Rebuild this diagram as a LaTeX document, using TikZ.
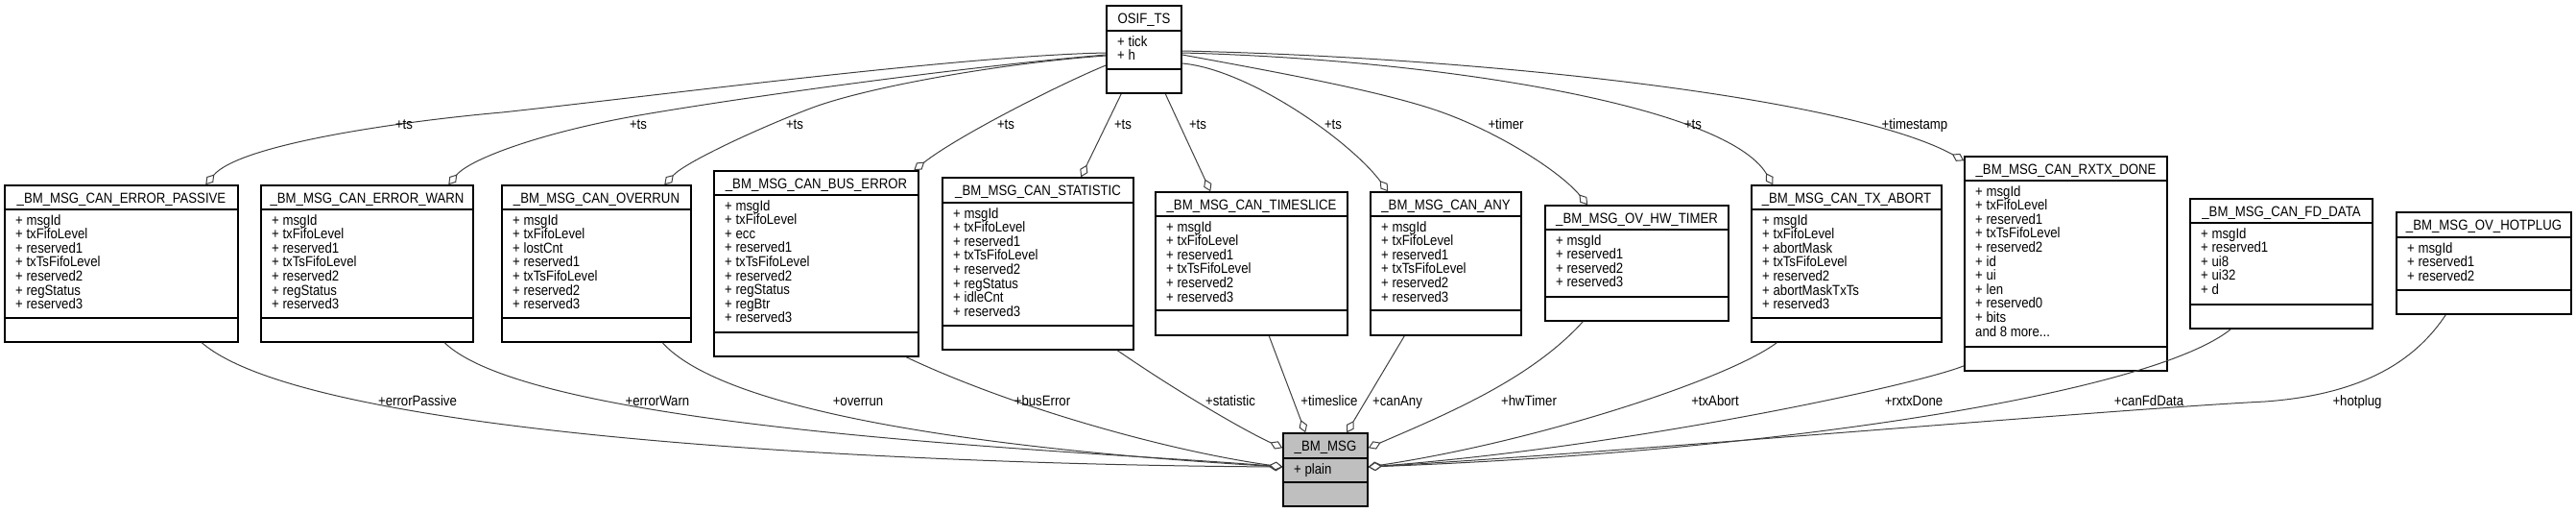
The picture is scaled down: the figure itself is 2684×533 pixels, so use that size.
\documentclass[tikz,border=0pt]{standalone}
\usepackage{fontspec}
\setmainfont{Liberation Sans}[FakeStretch=0.88]
\usetikzlibrary{arrows.meta,fit,calc}
\definecolor{edgegray}{HTML}{404040}
\definecolor{msggray}{HTML}{BFBFBF}
\newcommand\umlfont{\fontsize{15pt}{14.6pt}\selectfont}
\newcommand\umlfill{white}
\newcommand\moredots{...}
\tikzset{
  classbox/.style={draw=black, line width=1.5pt, inner sep=0pt},
  classline/.style={draw=black, line width=1.5pt},
  classtitle/.style={anchor=base, inner sep=0pt, font=\umlfont},
  classattr/.style={anchor=base west, inner sep=0pt, font=\umlfont},
  edgelabel/.style={anchor=base, inner sep=0pt, font=\umlfont},
  member/.style={draw=edgegray, line width=1pt,
    -{Diamond[length=14pt,width=9pt,fill=white,line width=1pt]}},
}
% #1 name, #2 left, #3 top, #4 right, #5 bottom, #6 sep1, #7 sep2, #8 title, #9 attributes
\newcommand\umlclass[9]{%
  \node[classbox, fill=\umlfill, fit={(#2,#3) (#4,#5)}] (#1) {};
  \draw[classline] (#2,#6) -- (#4,#6) (#2,#7) -- (#4,#7);
  \node[classtitle] (#1-title) at ({(#2+#4)/2},{(#3+#6)/2+5.5}) {#8};
  \foreach \umlattr [count=\k] in {#9}
    \node[classattr] (#1-a\k) at (#2+11,{#6+16+(\k-1)*14.6}) {\umlattr};
}
\begin{document}
\begin{tikzpicture}[x=1pt,y=-1pt]
\useasboundingbox (0,0) rectangle (2684,533);

\umlclass{osif}{1153}{6}{1231}{97}{32}{72}{OSIF\_TS}{+ tick,+ h}
\umlclass{passive}{5}{193}{248}{356}{218}{331}{\_BM\_MSG\_CAN\_ERROR\_PASSIVE}{+ msgId,+ txFifoLevel,+ reserved1,+ txTsFifoLevel,+ reserved2,+ regStatus,+ reserved3}
\umlclass{warn}{272}{193}{493}{356}{218}{331}{\_BM\_MSG\_CAN\_ERROR\_WARN}{+ msgId,+ txFifoLevel,+ reserved1,+ txTsFifoLevel,+ reserved2,+ regStatus,+ reserved3}
\umlclass{overrun}{523}{193}{720}{356}{218}{331}{\_BM\_MSG\_CAN\_OVERRUN}{+ msgId,+ txFifoLevel,+ lostCnt,+ reserved1,+ txTsFifoLevel,+ reserved2,+ reserved3}
\umlclass{buserr}{744}{178}{957}{371}{203}{346}{\_BM\_MSG\_CAN\_BUS\_ERROR}{+ msgId,+ txFifoLevel,+ ecc,+ reserved1,+ txTsFifoLevel,+ reserved2,+ regStatus,+ regBtr,+ reserved3}
\umlclass{statistic}{982}{185}{1181}{364}{211}{339}{\_BM\_MSG\_CAN\_STATISTIC}{+ msgId,+ txFifoLevel,+ reserved1,+ txTsFifoLevel,+ reserved2,+ regStatus,+ idleCnt,+ reserved3}
\umlclass{timeslice}{1204}{200}{1404}{349}{225}{323}{\_BM\_MSG\_CAN\_TIMESLICE}{+ msgId,+ txFifoLevel,+ reserved1,+ txTsFifoLevel,+ reserved2,+ reserved3}
\umlclass{canany}{1428}{200}{1585}{349}{225}{323}{\_BM\_MSG\_CAN\_ANY}{+ msgId,+ txFifoLevel,+ reserved1,+ txTsFifoLevel,+ reserved2,+ reserved3}
\umlclass{hwtimer}{1610}{214}{1801}{334}{239}{309}{\_BM\_MSG\_OV\_HW\_TIMER}{+ msgId,+ reserved1,+ reserved2,+ reserved3}
\umlclass{txabort}{1825}{193}{2023}{356}{218}{331}{\_BM\_MSG\_CAN\_TX\_ABORT}{+ msgId,+ txFifoLevel,+ abortMask,+ txTsFifoLevel,+ reserved2,+ abortMaskTxTs,+ reserved3}
\umlclass{rxtx}{2047}{163}{2258}{386}{188}{361}{\_BM\_MSG\_CAN\_RXTX\_DONE}{+ msgId,+ txFifoLevel,+ reserved1,+ txTsFifoLevel,+ reserved2,+ id,+ ui,+ len,+ reserved0,+ bits,{and 8 more\moredots}}
\umlclass{fddata}{2282}{207}{2472}{342}{232}{317}{\_BM\_MSG\_CAN\_FD\_DATA}{+ msgId,+ reserved1,+ ui8,+ ui32,+ d}
\umlclass{hotplug}{2497}{221}{2679}{327}{247}{302}{\_BM\_MSG\_OV\_HOTPLUG}{+ msgId,+ reserved1,+ reserved2}
\renewcommand\umlfill{msggray}
\umlclass{msg}{1337}{451}{1425}{527}{477}{502}{\_BM\_MSG}{+ plain}

% OSIF_TS -> classes (+ts)
\draw[member] ($(osif.west)+(0,3.5)$) .. controls (1000,58) and (673,101) .. (523,117) .. controls (420,126) and (250,150) .. ($(passive.north west)+(210,0)$);
\draw[member] ($(osif.west)+(0,5.5)$) .. controls (1000,70) and (776,101) .. (666,120) .. controls (566,137.5) and (490,165) .. ($(warn.north west)+(196,0)$);
\draw[member] ($(osif.west)+(0,6.5)$) .. controls (1050,65) and (904,90) .. (844,113) .. controls (794,132) and (715,168) .. ($(overrun.north west)+(170,0)$);
\draw[member] ($(osif.west)+(0,16.5)$) .. controls (1110,85) and (1000,140) .. ($(buserr.north west)+(209,0)$);
\draw[member] ($(osif.south west)+(16,0)$) -- ($(statistic.north west)+(145,0)$);
\draw[member] ($(osif.south west)+(62,0)$) -- ($(timeslice.north west)+(58,0)$);
\draw[member] ($(osif.east)+(0,14.5)$) .. controls (1300,72) and (1405,145) .. ($(canany.north west)+(19,0)$);
\draw[member] ($(osif.east)+(0,5.5)$) .. controls (1330,75) and (1440,95) .. (1500,116) .. controls (1560,137) and (1625,178) .. ($(hwtimer.north west)+(45,0)$);
\draw[member] ($(osif.east)+(0,3.5)$) .. controls (1500,62) and (1798,110) .. ($(txabort.north west)+(23,0)$);
\draw[member] ($(osif.east)+(0,1.5)$) .. controls (1550,60) and (1927,102) .. ($(rxtx.north west)+(0,5)$);

% classes -> _BM_MSG
\draw[member] ($(passive.south west)+(206,0)$) .. controls (330,460) and (1000,484) .. ($(msg.west)+(0,-3)$);
\draw[member] ($(warn.south west)+(192,0)$) .. controls (560,450) and (1150,470) .. ($(msg.west)+(0,-3)$);
\draw[member] ($(overrun.south west)+(168,0)$) .. controls (770,445) and (1150,475) .. ($(msg.west)+(0,-3)$);
\draw[member] ($(buserr.south west)+(201,0)$) .. controls (1057,425) and (1220,470) .. ($(msg.west)+(0,-3)$);
\draw[member] ($(statistic.south west)+(183,0)$) .. controls (1230,410) and (1300,450) .. ($(msg.north west)+(0,16)$);
\draw[member] ($(timeslice.south west)+(119,0)$) -- ($(msg.north west)+(24,0)$);
\draw[member] ($(canany.south west)+(36,0)$) -- ($(msg.north west)+(67,0)$);
\draw[member] ($(hwtimer.south west)+(40,0)$) .. controls (1595,395) and (1505,432) .. ($(msg.north east)+(0,16)$);
\draw[member] ($(txabort.south west)+(27,0)$) .. controls (1800,395) and (1600,460) .. ($(msg.east)+(0,-3)$);
\draw[member] ($(rxtx.south west)+(0,-6)$) .. controls (2000,400) and (1700,465) .. ($(msg.east)+(0,-3)$);
\draw[member] ($(fddata.south west)+(43,0)$) .. controls (2240,410) and (1850,470) .. ($(msg.east)+(0,-3)$);
\draw[member] ($(hotplug.south west)+(52,0)$) .. controls (2520,370) and (2470,410) .. (2360,418) .. controls (2200,426) and (1700,470) .. ($(msg.east)+(0,-3)$);

% labels
\node[edgelabel] (l-ts1) at (421,134.5) {+ts};
\node[edgelabel] (l-ts2) at (665,134.5) {+ts};
\node[edgelabel] (l-ts3) at (828,134.5) {+ts};
\node[edgelabel] (l-ts4) at (1048,134.5) {+ts};
\node[edgelabel] (l-ts5) at (1170,134.5) {+ts};
\node[edgelabel] (l-ts6) at (1248,134.5) {+ts};
\node[edgelabel] (l-ts7) at (1389,134.5) {+ts};
\node[edgelabel] (l-timer) at (1569,134.5) {+timer};
\node[edgelabel] (l-ts8) at (1764,134.5) {+ts};
\node[edgelabel] (l-stamp) at (1995,134.5) {+timestamp};

\node[edgelabel] (l-ep) at (435,422.5) {+errorPassive};
\node[edgelabel] (l-ew) at (685,422.5) {+errorWarn};
\node[edgelabel] (l-ov) at (894,422.5) {+overrun};
\node[edgelabel] (l-be) at (1086,422.5) {+busError};
\node[edgelabel] (l-st) at (1282,422.5) {+statistic};
\node[edgelabel] (l-tsl) at (1385,422.5) {+timeslice};
\node[edgelabel] (l-ca) at (1456,422.5) {+canAny};
\node[edgelabel] (l-hw) at (1593,422.5) {+hwTimer};
\node[edgelabel] (l-ta) at (1787,422.5) {+txAbort};
\node[edgelabel] (l-rx) at (1994,422.5) {+rxtxDone};
\node[edgelabel] (l-fd) at (2239,422.5) {+canFdData};
\node[edgelabel] (l-hp) at (2456,422.5) {+hotplug};
\end{tikzpicture}
\end{document}
